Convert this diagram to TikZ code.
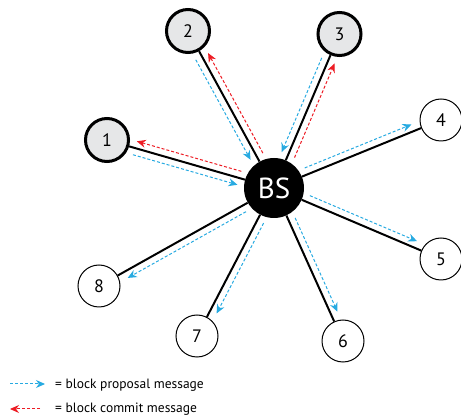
\documentclass[tikz,border=0pt]{standalone}
\usepackage{fontspec}
\setmainfont{PT Sans}
\usetikzlibrary{calc,arrows.meta}
\definecolor{pblue}{HTML}{27AAE1}
\definecolor{cred}{HTML}{ED1C24}
\definecolor{nodegray}{HTML}{E6E7E8}
\newcommand\outmsg[3]{\draw[#1] ($(BS)!36pt!(#2)!#3!90:(#2)$) -- ($(#2)!29pt!(BS)!#3!-90:(BS)$);}
\newcommand\inmsg[3]{\draw[#1] ($(#2)!29pt!(BS)!#3!-90:(BS)$) -- ($(BS)!36pt!(#2)!#3!90:(#2)$);}
\begin{document}
\begin{tikzpicture}[x=1pt,y=-1pt,
  peer/.style={circle,draw=black,line width=3pt,fill=nodegray,minimum size=43pt,inner sep=0pt,font=\fontsize{18}{18}\selectfont},
  plainnode/.style={circle,draw=black,line width=1pt,fill=white,minimum size=42pt,inner sep=0pt,font=\fontsize{18}{18}\selectfont},
  bsnode/.style={circle,fill=black,minimum size=60pt,inner sep=0pt,text=white,font=\fontsize{29}{29}\selectfont},
  link/.style={line width=2pt},
  prop/.style={pblue,line width=1pt,dash pattern=on 3pt off 2pt,-{Stealth[length=9pt,width=8pt]}},
  commit/.style={cred,line width=1pt,dash pattern=on 3pt off 2pt,-{Stealth[length=9pt,width=8pt]}},
  legend/.style={anchor=base west,inner sep=0pt,font=\fontsize{13.5}{13.5}\selectfont}]
\useasboundingbox (0,0) rectangle (461,419);
\node[bsnode] (BS) at (274,188) {BS};
\node[peer] (n1) at (107,140) {1};
\node[peer] (n2) at (188,31) {2};
\node[peer] (n3) at (339.5,34) {3};
\node[plainnode] (n4) at (441,120) {4};
\node[plainnode] (n5) at (441,259) {5};
\node[plainnode] (n6) at (343,341) {6};
\node[plainnode] (n7) at (197,336) {7};
\node[plainnode] (n8) at (99,286) {8};
\foreach \n in {n1,n2,n3,n4,n5,n6,n7,n8} {\draw[link] (BS) -- (\n);}
\inmsg{prop}{n1}{7pt}
\outmsg{commit}{n1}{-7pt}
\inmsg{prop}{n2}{7pt}
\outmsg{commit}{n2}{-7pt}
\inmsg{prop}{n3}{7pt}
\outmsg{commit}{n3}{-7pt}
\outmsg{prop}{n4}{7pt}
\outmsg{prop}{n5}{7pt}
\outmsg{prop}{n6}{7pt}
\outmsg{prop}{n7}{7pt}
\outmsg{prop}{n8}{7pt}
% legend
\coordinate (lb1) at (10,384);
\coordinate (lb2) at (45,384);
\draw[prop] (lb1) -- (lb2);
\node[legend] (lt1) at (55,389) {= block proposal message};
\coordinate (lr1) at (40,409);
\coordinate (lr2) at (10,409);
\draw[commit] (lr1) -- (lr2);
\node[legend] (lt2) at (55,413) {= block commit message};
\end{tikzpicture}
\end{document}
